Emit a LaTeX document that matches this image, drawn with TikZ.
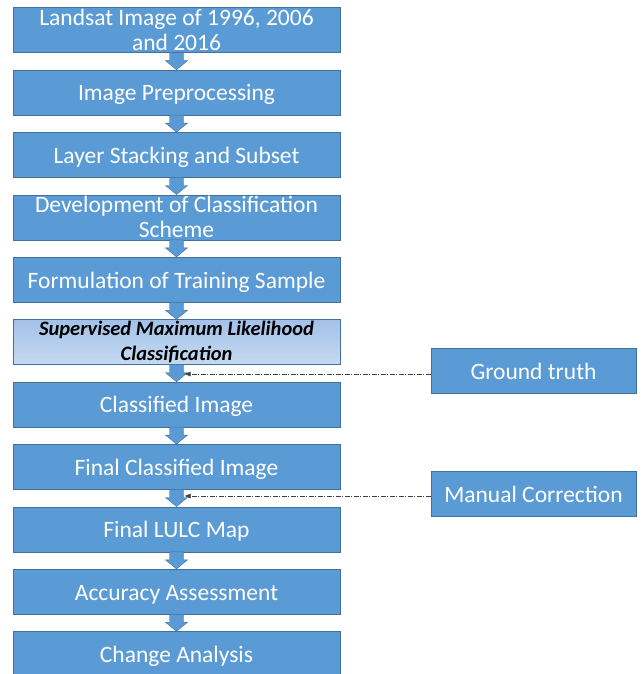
\documentclass[tikz,border=0pt]{standalone}
\usepackage{fontspec}
\setmainfont{Carlito}
\usetikzlibrary{positioning,calc,arrows.meta}
\definecolor{box fill}{HTML}{5B9BD5}
\definecolor{box edge}{HTML}{41719C}
\definecolor{mlc top}{HTML}{A3C1E9}
\definecolor{mlc bottom}{HTML}{C6DAF1}
\def\blockarrow#1#2{%
    \draw[blockarrow] ($(#1.south)+(-7,0)$) -- ($(#2.north)+(-7,9)$) -- ($(#2.north)+(-11,9)$)
        -- (#2.north) -- ($(#2.north)+(11,9)$) -- ($(#2.north)+(7,9)$) -- ($(#1.south)+(7,0)$) -- cycle;}
\tikzset{procbox/.style={fill=box fill, draw=box edge, thin, text=white, align=center,
        minimum width=327pt, minimum height=45pt, inner sep=0pt,
        text height=20pt, text depth=3pt,
        font=\fontsize{23.5}{25}\selectfont},
    twoline/.style={inner ysep=-4pt, text height={}, text depth={}},
    mlcbox/.style={procbox, top color=mlc top, bottom color=mlc bottom, text=black,
        font=\fontsize{20.5}{25}\selectfont\bfseries\itshape},
    sidebox/.style={procbox, minimum width=205pt},
    blockarrow/.style={fill=box fill, draw=box edge, thin},
    feedback/.style={draw=black!75, thin, dash pattern=on 5pt off 1.5pt on 1pt off 1.5pt,
        -{Latex[length=6pt,width=5pt]}}}

\begin{document}
\begin{tikzpicture}[x=1pt, y=1pt, node distance=17pt]
    \useasboundingbox (0,0) rectangle (642,-674);
    \node[procbox, twoline] (landsat) at (176.5,-30) {Landsat Image of 1996, 2006\\and 2016};
    \node[procbox, below=of landsat] (prep)   {Image Preprocessing};
    \node[procbox, below=of prep]    (stack)  {Layer Stacking and Subset};
    \node[procbox, twoline, below=of stack] (scheme) {Development of Classification\\Scheme};
    \node[procbox, below=of scheme]  (train)  {Formulation of Training Sample};
    \node[mlcbox, twoline, below=of train]  (mlc)    {Supervised Maximum Likelihood\\Classification};
    \node[procbox, below=of mlc]     (clsimg) {Classified Image};
    \node[procbox, below=of clsimg]  (final)  {Final Classified Image};
    \node[procbox, below=of final]   (lulc)   {Final LULC Map};
    \node[procbox, below=of lulc]    (acc)    {Accuracy Assessment};
    \node[procbox, below=of acc]     (change) {Change Analysis};

    \node[sidebox] (truth)  at (533.5,-371) {Ground truth};
    \node[sidebox] (manual) at (533.5,-494) {Manual Correction};

    \foreach \a/\b in {landsat/prep, prep/stack, stack/scheme, scheme/train, train/mlc,
                       mlc/clsimg, clsimg/final, final/lulc, lulc/acc, acc/change}
        {\blockarrow{\a}{\b}}

    % dash-dot inputs
    \coordinate (truthend)  at ($(truth.west -| mlc.south)+(8,-3)$);
    \coordinate (manualend) at ($(manual.west -| final.south)+(8,-2)$);
    \draw[feedback] (truth.west |- truthend)  -- (truthend);
    \draw[feedback] (manual.west |- manualend) -- (manualend);
\end{tikzpicture}
\end{document}
